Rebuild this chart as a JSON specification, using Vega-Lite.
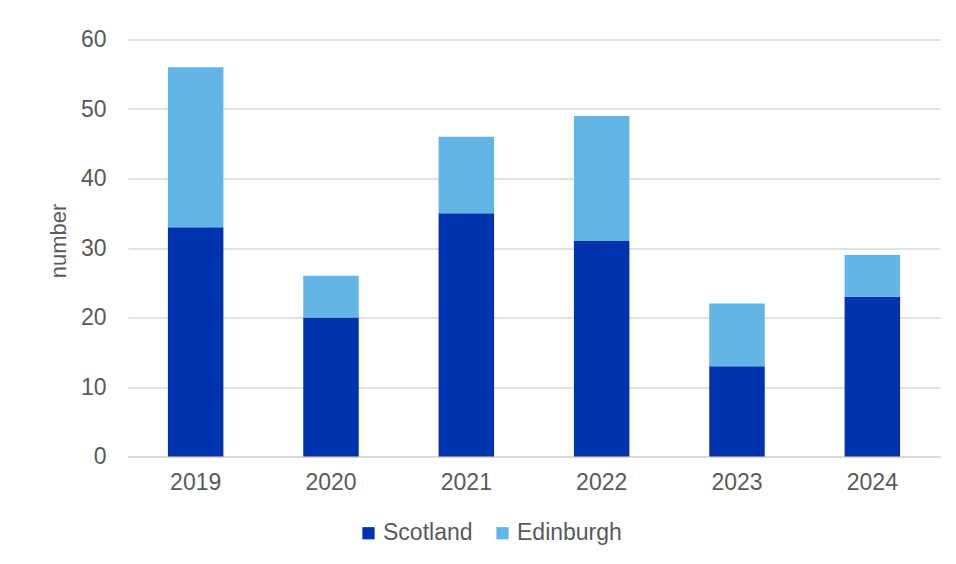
{
  "$schema": "https://vega.github.io/schema/vega-lite/v6.json",
  "autosize": {"type": "none"},
  "width": 812,
  "height": 417,
  "padding": {"left": 128, "top": 39.5, "right": 16, "bottom": 107.5},
  "background": "white",
  "config": {
    "font": "Liberation Sans",
    "view": {"stroke": null},
    "axis": {"labelColor": "#595959", "titleColor": "#595959", "labelFontSize": 23, "titleFontSize": 22, "titleFontWeight": "normal"},
    "legend": {"labelColor": "#595959", "labelFontSize": 23}
  },
  "data": {
    "values": [
      {"year": "2019", "area": "Scotland", "number": 33},
      {"year": "2019", "area": "Edinburgh", "number": 23},
      {"year": "2020", "area": "Scotland", "number": 20},
      {"year": "2020", "area": "Edinburgh", "number": 6},
      {"year": "2021", "area": "Scotland", "number": 35},
      {"year": "2021", "area": "Edinburgh", "number": 11},
      {"year": "2022", "area": "Scotland", "number": 31},
      {"year": "2022", "area": "Edinburgh", "number": 18},
      {"year": "2023", "area": "Scotland", "number": 13},
      {"year": "2023", "area": "Edinburgh", "number": 9},
      {"year": "2024", "area": "Scotland", "number": 23},
      {"year": "2024", "area": "Edinburgh", "number": 6}
    ]
  },
  "mark": {"type": "bar"},
  "encoding": {
    "x": {
      "field": "year", "type": "nominal",
      "scale": {"paddingInner": 0.59, "paddingOuter": 0.295},
      "axis": {"title": null, "labelAngle": 0, "domainColor": "#D9D9D9", "domainWidth": 2, "ticks": false, "labelPadding": 15}
    },
    "y": {
      "field": "number", "type": "quantitative",
      "scale": {"domain": [0, 60]},
      "axis": {"title": "number", "values": [0, 10, 20, 30, 40, 50, 60], "labelOverlap": false, "domain": false, "ticks": false, "labelPadding": 22, "gridColor": "#D9D9D9", "gridWidth": 1.5, "titlePadding": 10, "titleY": 201}
    },
    "color": {
      "field": "area", "type": "nominal",
      "sort": ["Scotland", "Edinburgh"],
      "scale": {"domain": ["Scotland", "Edinburgh"], "range": ["#0033B0", "#62B5E5"]},
      "legend": {"title": null, "orient": "none", "direction": "horizontal", "legendX": 229, "legendY": 482, "symbolType": "square", "symbolSize": 150, "symbolStrokeWidth": 0, "labelOffset": 3, "columnPadding": 18, "padding": 0}
    },
    "order": {"field": "area", "sort": "descending"}
  }
}
